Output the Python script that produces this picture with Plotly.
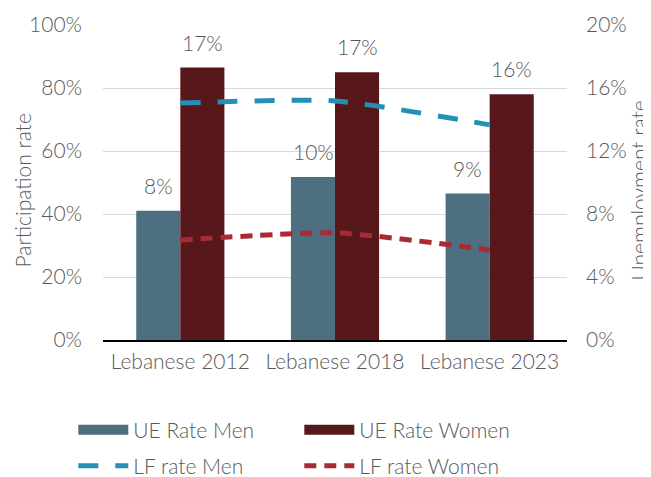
import plotly.graph_objects as go

categories = ["Lebanese 2012", "Lebanese 2018", "Lebanese 2023"]
ue_men = [8.2, 10.35, 9.3]
ue_women = [17.3, 17.0, 15.6]
lf_men = [75.2, 75.9, 68.3]
lf_women = [31.7, 34.0, 28.6]

ue_men_labels = ["8%", "10%", "9%"]
ue_women_labels = ["17%", "17%", "16%"]

GRAY = "#595959"
FONT = "Lato"
FS = 21
W = 300
C_MEN = "#4e6f7f"
C_WOMEN = "#58171a"

fig = go.Figure()
fig.add_trace(go.Bar(
    x=categories, y=ue_men, name="UE Rate Men",
    marker=dict(color=C_MEN, line=dict(width=0)),
    yaxis="y", showlegend=False,
))
fig.add_trace(go.Bar(
    x=categories, y=ue_women, name="UE Rate Women",
    marker=dict(color=C_WOMEN, line=dict(width=0)),
    yaxis="y", showlegend=False,
))
# legend entries for the bars (wide rectangle swatches)
fig.add_trace(go.Scatter(
    x=[None], y=[None], name="UE Rate Men", mode="lines",
    line=dict(color=C_MEN, width=10), yaxis="y", legend="legend",
))
fig.add_trace(go.Scatter(
    x=[None], y=[None], name="UE Rate Women", mode="lines",
    line=dict(color=C_WOMEN, width=10), yaxis="y", legend="legend",
))
fig.add_trace(go.Scatter(
    x=categories, y=lf_men, name="LF rate Men", mode="lines",
    line=dict(color="#2590b5", width=5, dash="20px,17px", shape="spline", smoothing=0.6),
    yaxis="y2", legend="legend2",
))
fig.add_trace(go.Scatter(
    x=categories, y=lf_women, name="LF rate Women", mode="lines",
    line=dict(color="#a82a32", width=5, dash="12px,8px", shape="spline", smoothing=0.6),
    yaxis="y2", legend="legend2",
))

for vals, labels, dx in ((ue_men, ue_men_labels, -22), (ue_women, ue_women_labels, 22)):
    for c, v, t in zip(categories, vals, labels):
        fig.add_annotation(
            x=c, y=v, xref="x", yref="y", text=t, showarrow=False,
            xshift=dx, yshift=11, yanchor="bottom",
            font=dict(family=FONT, size=FS, color=GRAY, weight=W),
        )

# axis titles
for text, xpos, dx in (("Participation rate", 0, -81), ("Unemployment rate", 1, 71)):
    fig.add_annotation(
        x=xpos, y=0.5, xref="paper", yref="paper", text=text, showarrow=False,
        textangle=-90, xanchor="center", yanchor="middle", xshift=dx, yshift=-8,
        font=dict(family=FONT, size=FS, color=GRAY, weight=W),
    )

legend_common = dict(
    orientation="h", xanchor="left", yanchor="middle",
    entrywidth=161, entrywidthmode="pixels", itemwidth=50,
    font=dict(size=FS, color=GRAY, family=FONT, weight=W),
    traceorder="normal", bgcolor="rgba(0,0,0,0)",
)

# the page body adds an 8px offset, so the figure is sized 8px smaller
fig.update_layout(
    width=643, height=469,
    margin=dict(l=95, r=84, t=17, b=137, autoexpand=False),
    paper_bgcolor="white", plot_bgcolor="white",
    font=dict(family=FONT, size=FS, color=GRAY, weight=W),
    barmode="group", bargap=0.43, bargroupgap=0,
    showlegend=True,
    legend=dict(x=-0.064, y=-0.286, **legend_common),
    legend2=dict(x=-0.064, y=-0.400, **legend_common),
    xaxis=dict(
        showgrid=False, showline=True, linecolor="black", linewidth=1.5,
        tickfont=dict(size=FS, color=GRAY, family=FONT, weight=W), ticks="",
        ticklabelstandoff=2, automargin=False,
    ),
    yaxis=dict(
        side="right", range=[0, 20], dtick=4, ticksuffix="%",
        showgrid=True, gridcolor="#d9d9d9", gridwidth=1.2,
        zeroline=False, tickfont=dict(size=FS, color=GRAY, family=FONT, weight=W),
        ticklabelstandoff=18, automargin=False,
    ),
    yaxis2=dict(
        side="left", overlaying="y", range=[0, 100], dtick=20, ticksuffix="%",
        showgrid=False, zeroline=False,
        tickfont=dict(size=FS, color=GRAY, family=FONT, weight=W),
        ticklabelstandoff=20, automargin=False,
    ),
)

fig.write_html("out.html")
